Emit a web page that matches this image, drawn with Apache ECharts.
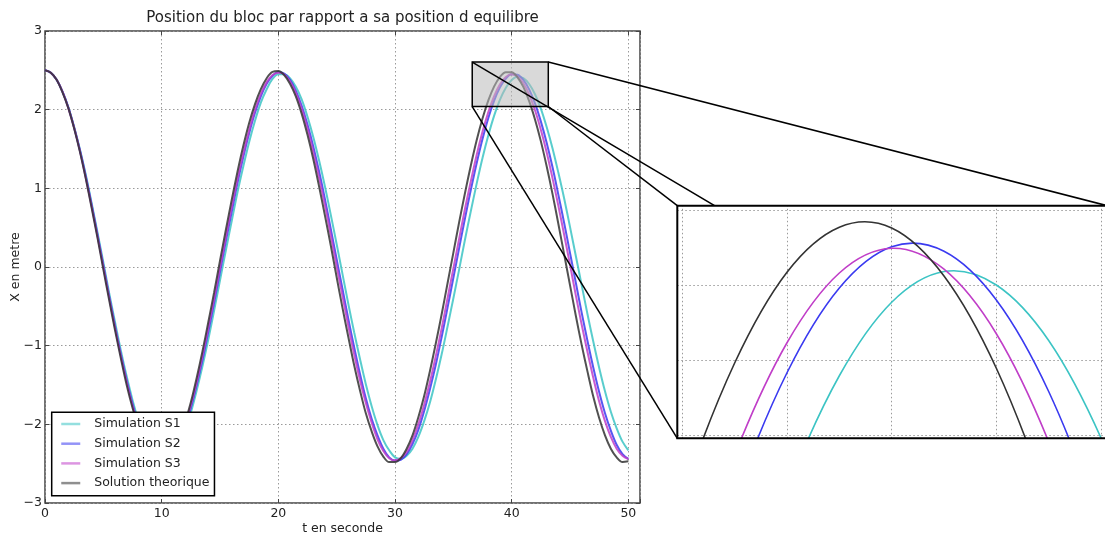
<!DOCTYPE html>
<html>
<head>
<meta charset="utf-8">
<script src="https://cdn.jsdelivr.net/npm/echarts@6/dist/echarts.min.js"></script>
<style>
html,body{margin:0;padding:0;background:#ffffff;}
#c{width:1105px;height:536px;}
</style>
</head>
<body>
<div id="c"></div>
<script>
// ---- data ----
const time = [
  0,0.5,1,1.5,2,2.5,3,3.5,4,4.5,
  5,5.5,6,6.5,7,7.5,8,8.5,9,9.5,
  10,10.5,11,11.5,12,12.5,13,13.5,14,14.5,
  15,15.5,16,16.5,17,17.5,18,18.5,19,19.5,
  20,20.5,21,21.5,22,22.5,23,23.5,24,24.5,
  25,25.5,26,26.5,27,27.5,28,28.5,29,29.5,
  30,30.5,31,31.5,32,32.5,33,33.5,34,34.5,
  35,35.5,36,36.5,37,37.5,38,38.5,39,39.5,
  40,40.5,41,41.5,42,42.5,43,43.5,44,44.5,
  45,45.5,46,46.5,47,47.5,48,48.5,49,49.5,
  50
];
const simS1 = [
  2.5,2.47,2.38,2.23,2.03,1.78,1.49,1.17,0.81,0.44,
  0.06,-0.33,-0.70,-1.06,-1.39,-1.69,-1.95,-2.17,-2.33,-2.43,
  -2.48,-2.46,-2.39,-2.26,-2.08,-1.85,-1.57,-1.26,-0.92,-0.55,
  -0.17,0.21,0.58,0.95,1.28,1.59,1.86,2.09,2.26,2.39,
  2.45,2.45,2.40,2.29,2.13,1.91,1.65,1.35,1.02,0.66,
  0.29,-0.09,-0.47,-0.83,-1.17,-1.49,-1.77,-2.01,-2.20,-2.33,
  -2.42,-2.44,-2.40,-2.31,-2.16,-1.96,-1.72,-1.43,-1.11,-0.76,
  -0.40,-0.03,0.35,0.71,1.06,1.386,1.675,1.925,2.127,2.279,
  2.377,2.418,2.400,2.326,2.196,2.014,1.78,1.51,1.20,0.87,
  0.51,0.14,-0.23,-0.60,-0.95,-1.28,-1.58,-1.84,-2.05,-2.22,
  -2.33
];
const simS2 = [
  2.5,2.47,2.38,2.23,2.03,1.77,1.48,1.15,0.79,0.41,
  0.02,-0.37,-0.75,-1.11,-1.44,-1.74,-2.00,-2.20,-2.36,-2.45,
  -2.49,-2.46,-2.38,-2.24,-2.04,-1.79,-1.50,-1.18,-0.82,-0.45,
  -0.06,0.33,0.70,1.07,1.40,1.70,1.96,2.17,2.33,2.43,
  2.48,2.46,2.38,2.24,2.05,1.81,1.53,1.21,0.86,0.48,
  0.10,-0.28,-0.66,-1.02,-1.36,-1.67,-1.93,-2.14,-2.31,-2.42,
  -2.46,-2.45,-2.38,-2.25,-2.07,-1.83,-1.55,-1.24,-0.89,-0.52,
  -0.14,0.24,0.62,0.98,1.32,1.628,1.895,2.115,2.283,2.396,
  2.451,2.445,2.380,2.258,2.080,1.851,1.58,1.27,0.92,0.56,
  0.18,-0.20,-0.58,-0.94,-1.28,-1.59,-1.86,-2.08,-2.26,-2.38,
  -2.44
];
const simS3 = [
  2.5,2.47,2.38,2.23,2.02,1.77,1.47,1.13,0.77,0.39,
  0.00,-0.39,-0.77,-1.13,-1.46,-1.76,-2.01,-2.22,-2.37,-2.46,
  -2.49,-2.46,-2.37,-2.22,-2.01,-1.76,-1.47,-1.13,-0.77,-0.40,
  -0.01,0.38,0.76,1.12,1.45,1.74,2.00,2.20,2.35,2.44,
  2.47,2.45,2.36,2.21,2.01,1.76,1.46,1.13,0.78,0.40,
  0.01,-0.37,-0.75,-1.11,-1.44,-1.73,-1.98,-2.19,-2.34,-2.43,
  -2.46,-2.43,-2.35,-2.20,-2.00,-1.75,-1.46,-1.13,-0.78,-0.40,
  -0.02,0.36,0.74,1.09,1.424,1.718,1.970,2.173,2.323,2.416,
  2.449,2.421,2.335,2.191,1.993,1.746,1.46,1.13,0.78,0.41,
  0.03,-0.36,-0.73,-1.08,-1.41,-1.71,-1.96,-2.16,-2.31,-2.40,
  -2.44
];
const theory = [
  2.5,2.47,2.38,2.22,2.02,1.76,1.46,1.12,0.75,0.37,
  -0.03,-0.42,-0.80,-1.16,-1.50,-1.79,-2.04,-2.24,-2.39,-2.47,
  -2.50,-2.46,-2.36,-2.20,-1.98,-1.72,-1.41,-1.07,-0.70,-0.32,
  0.08,0.47,0.85,1.21,1.54,1.83,2.07,2.26,2.40,2.48,
  2.49,2.44,2.33,2.17,1.95,1.68,1.37,1.02,0.65,0.27,
  -0.13,-0.52,-0.89,-1.25,-1.57,-1.86,-2.09,-2.28,-2.41,-2.48,
  -2.48,-2.43,-2.31,-2.14,-1.91,-1.64,-1.32,-0.97,-0.60,-0.21,
  0.18,0.57,0.94,1.29,1.61,1.887,2.118,2.296,2.417,2.477,
  2.476,2.412,2.289,2.109,1.876,1.60,1.28,0.93,0.55,0.16,
  -0.23,-0.62,-0.99,-1.33,-1.65,-1.92,-2.14,-2.31,-2.42,-2.48,
  -2.47
];
const seriesNames = ['Simulation S1', 'Simulation S2', 'Simulation S3', 'Solution theorique'];
const titleText = 'Position du bloc par rapport a sa position d equilibre';
const xName = 't en seconde';
const yName = 'X en metre';
// main axes extents
const mainX = [0, 51];
const mainY = [-3, 3];
// zoom box on the main chart (t from, t to, X from, X to)
const zoomBox = [36.62, 43.14, 2.04, 2.605];
// inset axes extents (t from, t to, X from, X to) and its grid values
const insetRange = [37.952, 42.06, 2.1956, 2.5057];
const insetTicksX = [38, 39, 40, 41, 42];
const insetTicksY = [2.2, 2.3, 2.4, 2.5];

// ---- chart ----
const FONT = 'DejaVu Sans';
const colors = ['#3cc4c4', '#3a3af0', '#c03ec8', '#333333'];
const values = [simS1, simS2, simS3, theory];
const pair = arr => time.map((t, i) => [t, arr[i]]);
const chart = echarts.init(document.getElementById('c'), null, {renderer: 'canvas'});

const mainSeries = values.map((v, i) => ({
  name: seriesNames[i], type: 'line', xAxisIndex: 0, yAxisIndex: 0, data: pair(v),
  symbol: 'none', showSymbol: false, smooth: 0.35, z: 2, animation: false,
  lineStyle: {color: colors[i], width: 2, opacity: 0.85},
  itemStyle: {color: colors[i]}
}));
const insetGridSeries = {
  type: 'line', xAxisIndex: 1, yAxisIndex: 1, data: [], z: 5, silent: true, animation: false,
  markLine: {
    silent: true, symbol: ['none', 'none'], label: {show: false}, animation: false,
    lineStyle: {color: '#9a9a9a', type: [1.5, 2.5], width: 1},
    data: insetTicksX.map(v => ({xAxis: v})).concat(insetTicksY.map(v => ({yAxis: v})))
  }
};
// inset curves: a Catmull-Rom path through the same read points, placed by the inset axes
function curvePath(pts) {
  const n = pts.length;
  let d = 'M' + pts[0][0] + ',' + pts[0][1];
  for (let i = 0; i < n - 1; i++) {
    const p0 = pts[Math.max(i - 1, 0)], p1 = pts[i], p2 = pts[i + 1], p3 = pts[Math.min(i + 2, n - 1)];
    const c1x = p1[0] + (p2[0] - p0[0]) / 6, c1y = p1[1] + (p2[1] - p0[1]) / 6;
    const c2x = p2[0] - (p3[0] - p1[0]) / 6, c2y = p2[1] - (p3[1] - p1[1]) / 6;
    d += 'C' + c1x + ',' + c1y + ',' + c2x + ',' + c2y + ',' + p2[0] + ',' + p2[1];
  }
  return d;
}
const insetSeries = values.map((v, i) => {
  const pts = pair(v);
  return {
    name: seriesNames[i], type: 'custom', coordinateSystem: 'cartesian2d',
    xAxisIndex: 1, yAxisIndex: 1, data: [pts[80]],
    z: 6, clip: true, silent: true, animation: false,
    itemStyle: {color: colors[i]},
    renderItem: (params, api) => ({
      type: 'path',
      shape: {pathData: curvePath(pts.map(p => api.coord(p)))},
      style: {stroke: colors[i], lineWidth: 1.6, fill: null}
    })
  };
});

const labelStyle = {color: '#222', fontFamily: FONT, fontSize: 12.5};
const gridLine = {show: true, lineStyle: {color: '#9a9a9a', type: [1.5, 2.5], width: 1}};
const tick = {show: true, inside: true, length: 4, lineStyle: {color: '#444', width: 1}};
const noLine = {show: false, onZero: false};

chart.setOption({
  animation: false,
  backgroundColor: '#ffffff',
  title: {
    text: titleText, left: 342.5, top: 11, textAlign: 'center', padding: 0,
    textStyle: {fontFamily: FONT, fontSize: 15, fontWeight: 'normal', color: '#222'}
  },
  legend: {
    data: seriesNames, orient: 'vertical', left: 51.7, top: 412.3,
    padding: [4.7, 5, 5.7, 8.3], itemGap: 5.7, itemWidth: 19, itemHeight: 14,
    backgroundColor: '#ffffff', borderColor: '#000', borderWidth: 1.5, borderRadius: 0,
    textStyle: {fontFamily: FONT, fontSize: 12.5, color: '#222', padding: [0, 0, 0, 9], lineHeight: 14},
    lineStyle: {width: 2.5, opacity: 0.55},
    itemStyle: {opacity: 0, borderWidth: 0},
    selectedMode: false, z: 4
  },
  grid: [
    {left: 45, top: 31, width: 595, height: 472, show: true, borderColor: '#444', borderWidth: 1.5,
     backgroundColor: 'transparent', containLabel: false, outerBoundsMode: 'none'},
    {left: 677.3, top: 205.7, width: 430, height: 232.6, show: false, containLabel: false, outerBoundsMode: 'none'}
  ],
  xAxis: [
    {gridIndex: 0, type: 'value', min: mainX[0], max: mainX[1], interval: 10, position: 'bottom',
     axisLine: noLine, axisTick: tick,
     axisLabel: Object.assign({margin: 4, formatter: v => (v % 10 === 0 ? String(v) : '')}, labelStyle),
     splitLine: gridLine,
     name: xName, nameLocation: 'middle', nameGap: 19, nameMoveOverlap: false, nameTextStyle: labelStyle},
    {gridIndex: 1, type: 'value', min: insetRange[0], max: insetRange[1], show: false, axisLine: noLine},
    {gridIndex: 0, type: 'value', min: mainX[0], max: mainX[1], interval: 10, position: 'top',
     axisLine: noLine, axisTick: tick, axisLabel: {show: false}, splitLine: {show: false}}
  ],
  yAxis: [
    {gridIndex: 0, type: 'value', min: mainY[0], max: mainY[1], interval: 1, position: 'left',
     axisLine: noLine, axisTick: tick,
     axisLabel: Object.assign({margin: 3, formatter: v => (v < 0 ? '\u2212' + Math.abs(v) : String(v))}, labelStyle),
     splitLine: gridLine,
     name: yName, nameLocation: 'middle', nameGap: 23, nameRotate: 90, nameMoveOverlap: false, nameTextStyle: labelStyle},
    {gridIndex: 1, type: 'value', min: insetRange[2], max: insetRange[3], show: false, axisLine: noLine},
    {gridIndex: 0, type: 'value', min: mainY[0], max: mainY[1], interval: 1, position: 'right',
     axisLine: noLine, axisTick: tick, axisLabel: {show: false}, splitLine: {show: false}}
  ],
  series: mainSeries.concat([insetGridSeries]).concat(insetSeries)
});

// ---- zoom box, connectors and inset frame placed from data coordinates ----
const P0 = p => chart.convertToPixel({xAxisIndex: 0, yAxisIndex: 0}, p);
const P1 = p => chart.convertToPixel({xAxisIndex: 1, yAxisIndex: 1}, p);
const tl = P0([zoomBox[0], zoomBox[3]]), br = P0([zoomBox[1], zoomBox[2]]);
const tr = [br[0], tl[1]], bl = [tl[0], br[1]];
const itl = P1([insetRange[0], insetRange[3]]), ibr = P1([insetRange[1], insetRange[2]]);
const itr = [ibr[0], itl[1]], ibl = [itl[0], ibr[1]];
const seg = (a, b) => ({
  type: 'line', z: 3, silent: true,
  shape: {x1: a[0], y1: a[1], x2: b[0], y2: b[1]},
  style: {stroke: '#000', lineWidth: 1.5}
});
chart.setOption({
  graphic: {
    elements: [
      {type: 'rect', z: 3, silent: true,
       shape: {x: tl[0], y: tl[1], width: br[0] - tl[0], height: br[1] - tl[1]},
       style: {fill: 'rgba(185,185,185,0.55)', stroke: '#000', lineWidth: 1.5}},
      seg(tl, ibr), seg(tr, itr), seg(br, itl), seg(bl, ibl),
      {type: 'rect', z: 4, silent: true,
       shape: {x: itl[0], y: itl[1], width: ibr[0] - itl[0], height: ibr[1] - itl[1]},
       style: {fill: '#ffffff'}},
      {type: 'rect', z: 12, silent: true,
       shape: {x: itl[0], y: itl[1], width: ibr[0] - itl[0], height: ibr[1] - itl[1]},
       style: {fill: 'none', stroke: '#000', lineWidth: 2}}
    ]
  }
});
</script>
</body>
</html>
